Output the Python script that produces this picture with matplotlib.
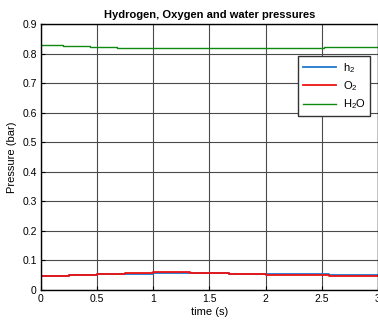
import matplotlib
matplotlib.use("Agg")
import matplotlib.pyplot as plt

plt.rcParams['font.family'] = ['Liberation Sans', 'DejaVu Sans']
plt.rcParams['mathtext.default'] = 'regular'

# step times and values
t_gas = [0, 0.25, 0.5, 0.75, 1.0, 1.33, 1.67, 2.0, 2.33, 2.56, 3.0]
h2 = [0.048, 0.050, 0.053, 0.055, 0.058, 0.057, 0.055, 0.053, 0.053, 0.052, 0.052]
o2 = [0.048, 0.051, 0.054, 0.057, 0.060, 0.058, 0.055, 0.052, 0.049, 0.046, 0.046]

t_water = [0, 0.2, 0.44, 0.68, 0.92, 1.44, 2.52, 3.0]
h2o = [0.829, 0.826, 0.823, 0.820, 0.818, 0.820, 0.823, 0.823]

fig = plt.figure(figsize=(3.78, 3.24), dpi=100)
ax = fig.add_axes([0.108, 0.105, 0.892, 0.821])

ax.plot(t_gas, h2, drawstyle='steps-post', color='#1f77d0', lw=1.3, label='h$_2$')
ax.plot(t_gas, o2, drawstyle='steps-post', color='#ee1111', lw=1.3, label='O$_2$')
ax.plot(t_water, h2o, drawstyle='steps-post', color='#118811', lw=1.0, label='H$_2$O')

ax.set_xlim(0, 3)
ax.set_ylim(0, 0.9)
ax.set_xticks([0, 0.5, 1, 1.5, 2, 2.5, 3])
ax.set_xticklabels(['0', '0.5', '1', '1.5', '2', '2.5', '3'])
ax.set_yticks([0, 0.1, 0.2, 0.3, 0.4, 0.5, 0.6, 0.7, 0.8, 0.9])
ax.set_yticklabels(['0', '0.1', '0.2', '0.3', '0.4', '0.5', '0.6', '0.7', '0.8', '0.9'])
ax.grid(True, color='#4a4a4a', lw=0.8)
ax.tick_params(direction='in', labelsize=7.5, length=3, pad=3)
for s in ax.spines.values():
    s.set_linewidth(1.0)

ax.set_title('Hydrogen, Oxygen and water pressures', fontsize=8, fontweight='bold', pad=4)
ax.set_xlabel('time (s)', fontsize=8, labelpad=2)
ax.set_ylabel('Pressure (bar)', fontsize=8, labelpad=4)

leg = ax.legend(loc='upper right', bbox_to_anchor=(0.994, 0.9), fontsize=8,
                fancybox=False, framealpha=1, edgecolor='#333333',
                handlelength=3.0, handletextpad=0.6, borderpad=0.45,
                labelspacing=0.4)
leg.get_frame().set_linewidth(1.0)

fig.savefig('out.png', dpi=100)
